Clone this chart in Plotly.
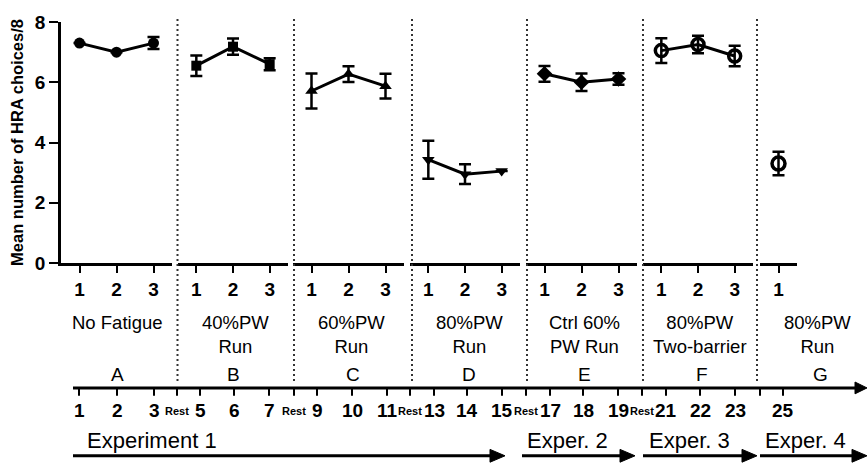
import plotly.graph_objects as go

# ---------------- data ----------------
panel_names = ["A", "B", "C", "D", "E", "F", "G"]
panel_labels = ["No Fatigue", "40%PW<br>Run", "60%PW<br>Run", "80%PW<br>Run",
                "Ctrl 60%<br>PW Run", "80%PW<br>Two-barrier", "80%PW<br>Run"]
trials = [[1, 2, 3], [1, 2, 3], [1, 2, 3], [1, 2, 3], [1, 2, 3], [1, 2, 3], [1]]
means_A = [7.3, 7.0, 7.3]
means_B = [6.55, 7.18, 6.6]
means_C = [5.71, 6.27, 5.87]
means_D = [3.43, 2.95, 3.05]
means_E = [6.28, 6.0, 6.11]
means_F = [7.05, 7.25, 6.87]
means_G = [3.3]
sem_A = [0.0, 0.0, 0.2]
sem_B = [0.34, 0.27, 0.2]
sem_C = [0.58, 0.26, 0.41]
sem_D = [0.63, 0.33, 0.0]
sem_E = [0.26, 0.29, 0.19]
sem_F = [0.41, 0.29, 0.34]
sem_G = [0.39]
y_ticks = [0, 2, 4, 6, 8]
y_title = "Mean number of HRA choices/8"
session_labels = ["1", "2", "3", "Rest", "5", "6", "7", "Rest", "9", "10", "11", "Rest",
                  "13", "14", "15", "Rest", "17", "18", "19", "Rest", "21", "22", "23", "", "25"]
experiment_labels = ["Experiment 1", "Exper. 2", "Exper. 3", "Exper. 4"]

means = [means_A, means_B, means_C, means_D, means_E, means_F, means_G]
sems = [sem_A, sem_B, sem_C, sem_D, sem_E, sem_F, sem_G]

# ---------------- layout geometry (pixels) ----------------
W, H = 867, 464
L, R, T, B = 61, 69, 18, 201
PW = W - L - R
PH = H - T - B

def px(x):
    return (x - L) / PW

def py(y):
    return (H - B - y) / PH

panel_px = [(61, 172), (178, 288), (293, 404), (410, 520), (526, 637), (643, 753), (760, 797)]
symbols = ["circle", "square", "triangle-up", "triangle-down", "diamond", "circle-open", "circle-open"]
msizes = [11, 10, 11, 11, 12, 12, 13]
divider_px = [177.5, 294, 412, 527, 643, 757]
session_px = [79, 117, 154, 177, 200, 234, 269, 294, 317, 352, 387, 410, 434, 467, 502,
              526, 550, 583, 618, 642, 666, 700, 735, 760, 783]
label_cx = [117, 235, 351, 469, 584, 700, 817]
letter_cx = [117, 233, 353, 469, 584, 702, 820]
exp_left = [85, 525, 647, 763]
exp_arrows = [(73, 505), (522, 635), (643, 757), (760, 867)]

FONT = "Liberation Sans, Arial, sans-serif"

fig = go.Figure()
layout = dict(
    width=W, height=H,
    margin=dict(l=L, r=R, t=T, b=B, pad=0),
    plot_bgcolor="white", paper_bgcolor="white",
    showlegend=False,
    font=dict(family=FONT, color="black"),
)

for i, (xs, m, s) in enumerate(zip(trials, means, sems)):
    ax = "x" if i == 0 else f"x{i+1}"
    is_open = symbols[i].endswith("open")
    fig.add_trace(go.Scatter(
        x=xs, y=m, xaxis=ax, yaxis="y",
        mode="lines+markers",
        line=dict(color="black", width=3),
        marker=dict(symbol=symbols[i], size=msizes[i], color="black",
                    line=dict(color="black", width=3.5 if is_open else 0)),
        error_y=dict(type="data", array=s, visible=True, color="black",
                     thickness=2.5, width=6),
    ))
    key = "xaxis" if i == 0 else f"xaxis{i+1}"
    d0, d1 = panel_px[i]
    layout[key] = dict(
        domain=[px(d0), px(d1)], anchor="y",
        range=[0.5, len(xs) + 0.5],
        tickvals=xs, ticktext=[f"<b>{v}</b>" for v in xs],
        ticks="outside", ticklen=7, tickwidth=2, tickcolor="black",
        showline=True, linewidth=2.5, linecolor="black",
        showgrid=False, zeroline=False, fixedrange=True,
        tickfont=dict(size=19, family=FONT, color="black"),
    )

layout["yaxis"] = dict(
    domain=[0, 1], anchor="x", range=[0, 8],
    tickvals=y_ticks, ticktext=[f"<b>{v}</b>" for v in y_ticks],
    ticks="outside", ticklen=9, tickwidth=2, tickcolor="black",
    showline=True, linewidth=2.5, linecolor="black",
    showgrid=False, zeroline=False,
    tickfont=dict(size=19, family=FONT, color="black"),
    title=dict(text=f"<b>{y_title}</b>", font=dict(size=16.5, family=FONT, color="black"),
               standoff=8),
)

shapes = []
annotations = []
# dotted dividers
for x in divider_px:
    shapes.append(dict(type="line", xref="paper", yref="paper",
                       x0=px(x), x1=px(x), y0=py(15), y1=py(385),
                       line=dict(color="#333", width=2, dash="2px,3px")))

def arrow(x0, x1, y, head=13, half=6, width=3):
    shapes.append(dict(type="line", xref="paper", yref="paper",
                       x0=px(x0), x1=px(x1 - head + 2), y0=py(y), y1=py(y),
                       line=dict(color="black", width=width)))
    path = (f"M {px(x1 - head)} {py(y - half)} L {px(x1)} {py(y)} "
            f"L {px(x1 - head)} {py(y + half)} Z")
    shapes.append(dict(type="path", xref="paper", yref="paper", path=path,
                       fillcolor="black", line=dict(color="black", width=1)))

# timeline
arrow(73, 867, 390, head=12, half=6, width=3)
for x, lab in zip(session_px, session_labels):
    shapes.append(dict(type="line", xref="paper", yref="paper",
                       x0=px(x), x1=px(x), y0=py(390), y1=py(398),
                       line=dict(color="black", width=2)))
    if lab:
        size = 11 if lab == "Rest" else 19
        annotations.append(dict(xref="paper", yref="paper", x=px(x), y=py(413),
                                text=f"<b>{lab}</b>", showarrow=False,
                                xanchor="center", yanchor="middle",
                                font=dict(size=size, family=FONT, color="black")))

# group labels and letters
for cx, lab in zip(label_cx, panel_labels):
    annotations.append(dict(xref="paper", yref="paper", x=px(cx), y=py(311),
                            text=lab, showarrow=False, xanchor="center", yanchor="top",
                            font=dict(size=18.5, family=FONT, color="black")))
for cx, lab in zip(letter_cx, panel_names):
    annotations.append(dict(xref="paper", yref="paper", x=px(cx), y=py(376),
                            text=lab, showarrow=False, xanchor="center", yanchor="middle",
                            font=dict(size=19, family=FONT, color="black")))

# experiments
for xl, lab in zip(exp_left, experiment_labels):
    annotations.append(dict(xref="paper", yref="paper", x=px(xl), y=py(443),
                            text=lab, showarrow=False, xanchor="left", yanchor="middle",
                            font=dict(size=22, family=FONT, color="black")))
for x0, x1 in exp_arrows:
    arrow(x0, x1, 459, head=15, half=6.5, width=3)

layout["shapes"] = shapes
layout["annotations"] = annotations
fig.update_layout(**layout)
fig.write_html("out.html", config={"displayModeBar": False},
               post_script="document.body.style.margin='0px';")
